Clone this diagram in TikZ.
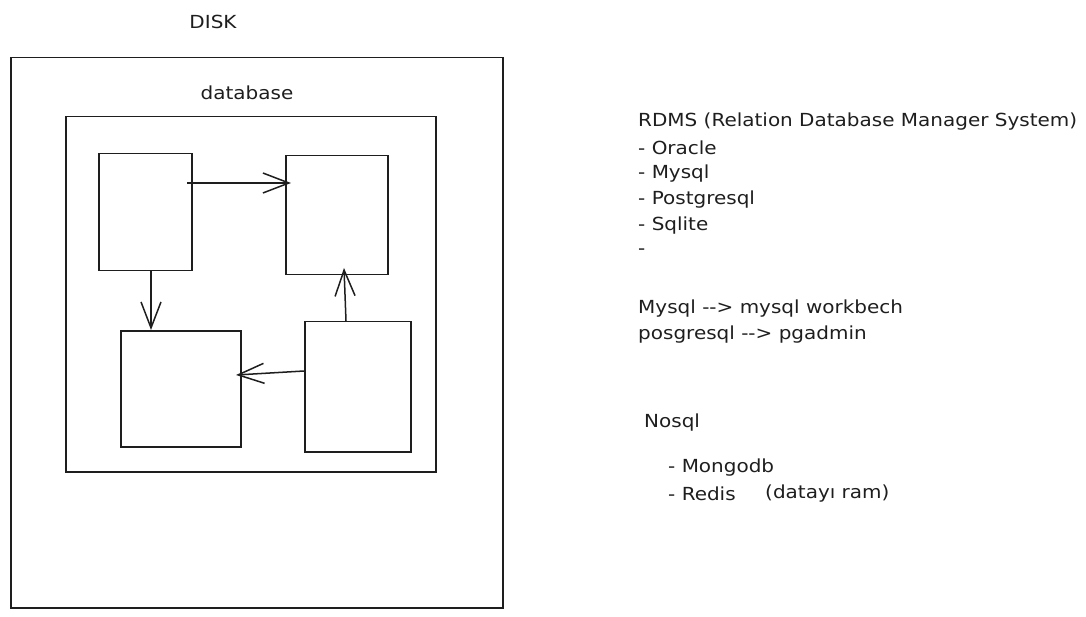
\documentclass[tikz,border=0pt]{standalone}
\usepackage{fontspec}
\setmainfont{DejaVu Sans}[FakeStretch=1.11]
\usetikzlibrary{arrows.meta}
\definecolor{ink}{HTML}{1E1E1E}
\tikzset{
  frame/.style={draw=ink, line width=1.5pt, rectangle, inner sep=0pt, anchor=north west},
  box/.style={frame},
  conn/.style={draw=ink, line width=1.5pt, -{Straight Barb[length=26pt,width=20pt,line width=1.5pt]}},
  lbl/.style={text=ink, inner sep=0pt, font=\fontsize{18}{21}\selectfont},
  item/.style={lbl, anchor=west},
}
\begin{document}
\begin{tikzpicture}[x=1pt,y=-1pt]
\useasboundingbox (0,0) rectangle (1086,617);
% containers
\node[frame, minimum width=492pt, minimum height=550pt] (disk) at (10,57) {};
\node[frame, minimum width=370pt, minimum height=355pt] (db) at (65,116) {};
\node[lbl] (disklbl) at (213,22) {DISK};
\node[lbl] (dblbl) at (247,93) {database};
% boxes
\node[box, minimum width=93pt, minimum height=117pt] (a) at (98,153) {};
\node[box, minimum width=102pt, minimum height=119pt] (b) at (285,155) {};
\node[box, minimum width=120pt, minimum height=116pt] (c) at (120,330) {};
\node[box, minimum width=106pt, minimum height=130pt] (d) at (304,321) {};
% connectors
\coordinate (a1) at (187,183);
\coordinate (b1) at (291,183);
\draw[conn] (a1) -- (b1);
\draw[conn] (a.south -| 151,0) -- (c.north -| 151,0);
\coordinate (d1) at (346,321);
\coordinate (b2) at (344,268);
\draw[conn] (d1) -- (b2);
\coordinate (d2) at (304,371);
\coordinate (c2) at (236,375);
\draw[conn] (d2) -- (c2);
% text
\node[item] (t1) at (638,122) {RDMS (Relation Database Manager System)};
\node[item] (t2) at (638,148) {- Oracle};
\node[item] (t3) at (638,174) {- Mysql};
\node[item] (t4) at (638,200) {- Postgresql};
\node[item] (t5) at (638,226) {- Sqlite};
\node[item] (t6) at (638,252) {-};
\node[item] (t7) at (638,309) {Mysql -{}-> mysql workbech};
\node[item] (t8) at (638,335) {posgresql -{}-> pgadmin};
\node[item] (t9) at (644,423) {Nosql};
\node[item] (t10) at (668,468) {- Mongodb};
\node[item] (t11) at (668,494) {- Redis};
\node[item] (t12) at (765,494) {(datayı ram)};
\end{tikzpicture}
\end{document}
